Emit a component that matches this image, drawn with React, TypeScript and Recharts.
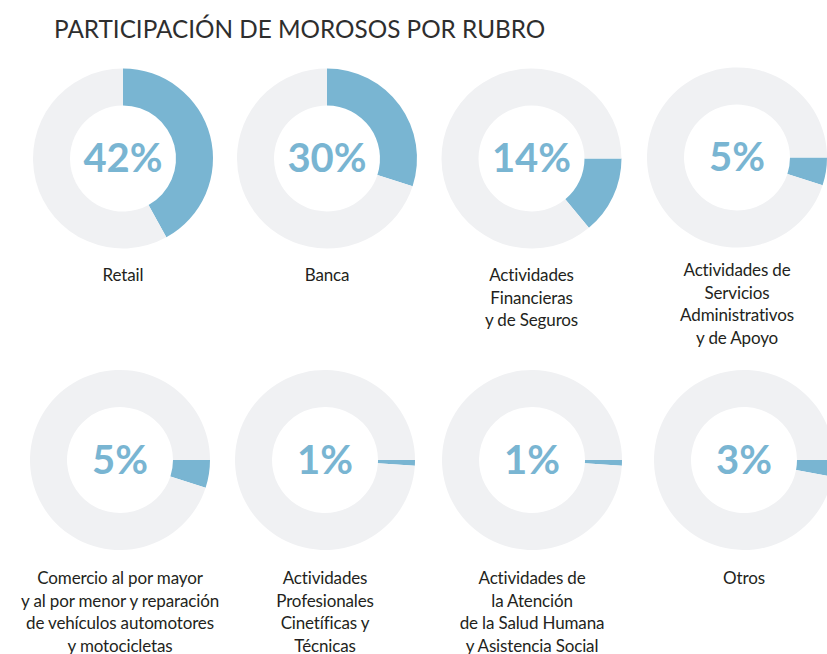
import { PieChart, Pie, Cell } from "recharts";

// share of delinquent debtors by sector (%)
const categories = [
  "Retail",
  "Banca",
  "Actividades\nFinancieras\ny de Seguros",
  "Actividades de\nServicios\nAdministrativos\ny de Apoyo",
  "Comercio al por mayor\ny al por menor y reparación\nde vehículos automotores\ny motocicletas",
  "Actividades\nProfesionales\nCinetíficas y\nTécnicas",
  "Actividades de\nla Atención\nde la Salud Humana\ny Asistencia Social",
  "Otros",
];
const shares = [42, 30, 14, 5, 5, 1, 1, 3];
const shareLabels = ["42%", "30%", "14%", "5%", "5%", "1%", "1%", "3%"];

// layout: donut centres, where the blue arc starts (recharts degrees), label tops
const centers: [number, number][] = [
  [123, 158.5],
  [327, 158.5],
  [531.5, 158.5],
  [737, 157.5],
  [120, 460],
  [325, 460],
  [532, 460],
  [744, 460],
];
const arcStart = [90, 90, 0, 0, 0, 0, 0, 0];
const labelTops = [264, 264, 264, 259, 567, 567, 567, 567];

const BLUE = "#79b5d2";
const TRACK = "#f0f1f3";
const W = 827;
const H = 654;

export default function App() {
  return (
    <div
      style={{
        position: "absolute",
        left: 0,
        top: 0,
        width: W,
        height: H,
        overflow: "hidden",
        background: "#fff",
        fontFamily: "Lato, sans-serif",
      }}
    >
      <div style={{ position: "absolute", left: 0, top: 0 }}>
        <PieChart width={W} height={H} margin={{ top: 0, right: 0, bottom: 0, left: 0 }}>
          {shares.map((s, i) => (
            <Pie
              key={categories[i]}
              data={[
                { name: categories[i], value: s },
                { name: "resto", value: 100 - s },
              ]}
              dataKey="value"
              cx={centers[i][0]}
              cy={centers[i][1]}
              innerRadius={53}
              outerRadius={90}
              startAngle={arcStart[i]}
              endAngle={arcStart[i] - 360}
              stroke="none"
              paddingAngle={0}
              isAnimationActive={false}
            >
              <Cell fill={BLUE} />
              <Cell fill={TRACK} />
            </Pie>
          ))}
        </PieChart>
      </div>

      <div
        style={{
          position: "absolute",
          left: 54,
          top: 14,
          fontSize: 24.3,
          color: "#2e2e2e",
          whiteSpace: "nowrap",
        }}
      >
        PARTICIPACIÓN DE MOROSOS POR RUBRO
      </div>

      {shareLabels.map((t, i) => (
        <div
          key={"p" + i}
          style={{
            position: "absolute",
            left: centers[i][0] - 80,
            width: 160,
            top: centers[i][1] - 21.5,
            textAlign: "center",
            fontSize: 40,
            lineHeight: "40px",
            fontWeight: 700,
            color: BLUE,
          }}
        >
          {t}
        </div>
      ))}

      {categories.map((c, i) => (
        <div
          key={"l" + i}
          style={{
            position: "absolute",
            left: centers[i][0] - 120,
            width: 240,
            top: labelTops[i],
            textAlign: "center",
            fontSize: 17,
            lineHeight: "22.5px",
            color: "#231f20",
            whiteSpace: "pre",
            letterSpacing: -0.15,
          }}
        >
          {c}
        </div>
      ))}
    </div>
  );
}
